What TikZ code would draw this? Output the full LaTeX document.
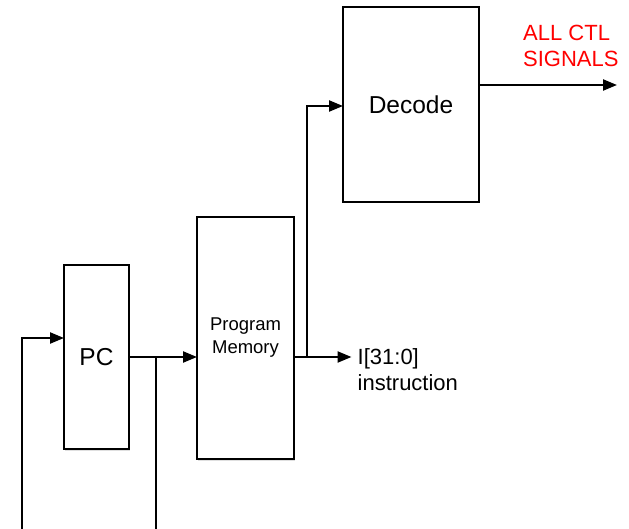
\documentclass[tikz,border=0pt]{standalone}
\usepackage{fontspec}
\setmainfont{Liberation Sans}
\usetikzlibrary{arrows.meta,shadows}
\definecolor{sigred}{RGB}{255,0,0}
\tikzset{
  blk/.style={draw=black, line width=2.2pt, fill=white, outer sep=0pt, inner sep=0pt,
    drop shadow={shadow xshift=1pt, shadow yshift=-1.5pt, opacity=0.25}},
  wire/.style={line width=2.2pt, line cap=rect},
  arr/.style={line width=2.2pt, -{Triangle[length=14pt,width=11pt]}},
  lbl/.style={align=left, inner sep=0pt, font=\fontsize{22}{26}\selectfont}
}
\begin{document}
\begin{tikzpicture}[x=1pt,y=-1pt]
\useasboundingbox (0,0) rectangle (629,529);
% blocks
\node[blk, minimum width=65pt, minimum height=184pt, font=\fontsize{24.5}{28}\selectfont] (PC) at (96.5,357) {PC};
\node[blk, minimum width=97pt, minimum height=242pt, align=center, font=\fontsize{18.5}{23}\selectfont] (PM) at (245.5,338) {Program\\Memory};
\node[blk, minimum width=136pt, minimum height=195pt, font=\fontsize{24.5}{28}\selectfont] (DEC) at (411,104.5) {Decode};
% labels
\node[lbl, anchor=west, inner xsep=4.5pt] (INS) at (353,370) {I[31:0]\\instruction};
\node[lbl, anchor=west, text=sigred] (CTL) at (523,46) {ALL CTL\\SIGNALS};
% coordinates
\coordinate (j1) at (156,357);
\coordinate (b1) at (156,529);
\coordinate (b0) at (22,529);
\coordinate (j2) at (307,357);
\coordinate (out) at (617,85);
% connectors
\draw[arr] (PC.east) -- (PM.west |- PC.east);
\draw[wire] (j1) -- (b1);
\draw[arr] (b0) |- ([yshift=19pt]PC.west);
\draw[arr] (PM.east |- j2) -- ([xshift=-1.5pt]INS.west |- j2);
\draw[arr] (j2) |- ([yshift=-1.5pt]DEC.west);
\draw[arr] ([yshift=19.5pt]DEC.east) -- (out);
\end{tikzpicture}
\end{document}
